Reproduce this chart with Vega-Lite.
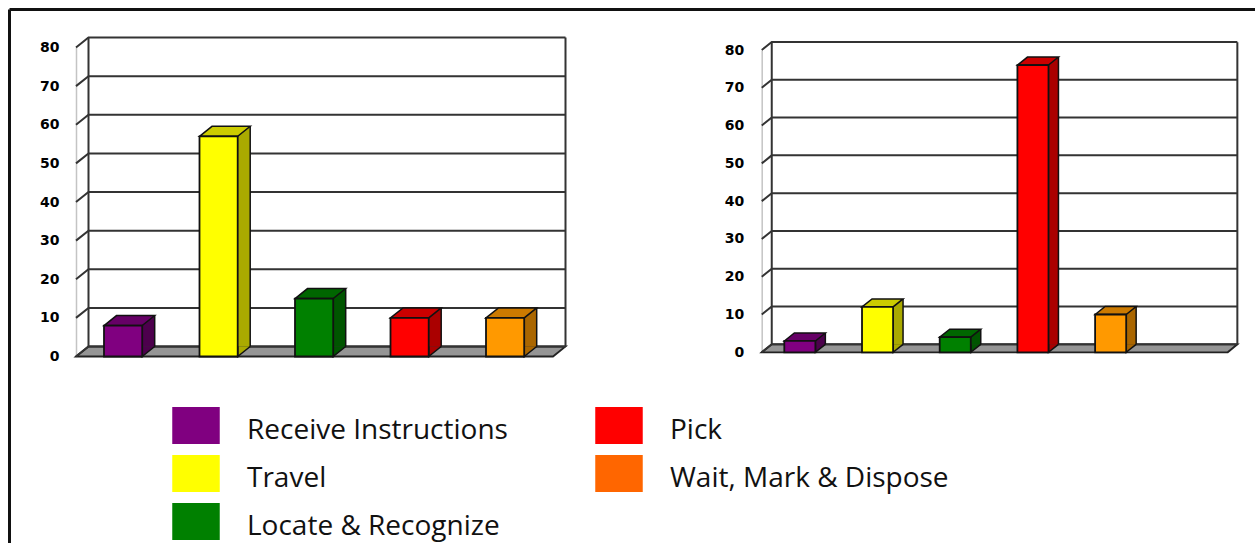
{
"$schema":"https://vega.github.io/schema/vega-lite/v6.json",
"width":1246,"height":534,
"autosize":{"type":"none"},
"padding":{"left":9,"top":9,"right":0,"bottom":0},
"background":"white",
"config":{"view":{"stroke":null}},
"datasets":{
"left":[{"activity":"Receive Instructions","value":8},{"activity":"Travel","value":57},{"activity":"Locate & Recognize","value":15},{"activity":"Pick","value":10},{"activity":"Wait, Mark & Dispose","value":10}],
"right":[{"activity":"Receive Instructions","value":3},{"activity":"Travel","value":12},{"activity":"Locate & Recognize","value":4},{"activity":"Pick","value":76},{"activity":"Wait, Mark & Dispose","value":10}],
"ticks":[{"tick":0},{"tick":10},{"tick":20},{"tick":30},{"tick":40},{"tick":50},{"tick":60},{"tick":70},{"tick":80}]
},
"resolve":{"scale":{"x":"independent","y":"independent","color":"independent"},"axis":{"x":"independent","y":"independent"}},
"layer":[
{"data":{"name":"ticks"},"mark":{"type":"point","size":0,"opacity":0},
 "encoding":{
  "x":{"datum":0,"type":"quantitative","scale":{"domain":[0,1]},"axis":{"orient":"top","title":null,"labels":false,"ticks":false,"grid":false,"domain":true,"domainColor":"#111","domainWidth":3}},
  "y":{"datum":0,"type":"quantitative","scale":{"domain":[0,1]},"axis":{"orient":"left","title":null,"labels":false,"ticks":false,"grid":false,"domain":true,"domainColor":"#111","domainWidth":3}}}},
{"data":{"name":"left"},"mark":{"type":"point","filled":true,"size":0},
 "encoding":{"color":{"field":"activity","type":"nominal",
  "scale":{"domain":["Receive Instructions","Travel","Locate & Recognize","Pick","Wait, Mark & Dispose"],"range":["#800080","#ffff00","#008000","#ff0000","#ff6600"]},
  "legend":{"title":null,"orient":"none","legendX":163,"legendY":398,"columns":2,"direction":"vertical","symbolType":"M-1,-1.05L1,-1.05L1,0.55L-1,0.55Z","symbolSize":2256,"symbolOpacity":1,"symbolStrokeWidth":0,"labelFont":"Open Sans","labelFontSize":28,"labelColor":"#111","labelLimit":500,"labelOffset":27,"columnPadding":87,"rowPadding":0,"clipHeight":48}}}},
{"data":{"name":"left"},
 "resolve":{"scale":{"color":"independent"}},
 "encoding":{
  "x":{"field":"activity","type":"nominal","sort":null,"axis":null,"scale":{"domain":["Receive Instructions","Travel","Locate & Recognize","Pick","Wait, Mark & Dispose"],"range":[66.35,543.85],"paddingInner":0.6,"paddingOuter":0.3}},
  "y":{"field":"value","type":"quantitative","scale":{"domain":[0,80],"range":[347.5,38.5],"nice":false},
   "axis":{"orient":"left","offset":-67,"title":null,"values":[0,10,20,30,40,50,60,70,80],"grid":false,"ticks":false,"domain":true,"domainColor":"#c4c4c4","domainWidth":1.5,"labelFont":"DejaVu Sans","labelFontWeight":"bold","labelFontSize":14,"labelColor":"#000","labelPadding":17}}},
 "layer":[
  {"mark":{"type":"point","filled":true,"size":4,"opacity":1,"fill":"#959595","stroke":"#222","strokeWidth":1.8,"shape":"M-47.1,0L-34.6,-10L442.4,-10L429.9,0Z"},
   "transform":[{"filter":"datum.activity==='Receive Instructions'"}],
   "encoding":{"y":{"datum":0,"type":"quantitative"}}},
  {"data":{"name":"ticks"},"mark":{"type":"point","filled":false,"size":4,"opacity":1,"stroke":"#333","strokeWidth":2,"shape":"M-47.1,0L-34.6,-10L442.4,-10"},
   "encoding":{"x":{"datum":"Receive Instructions"},"y":{"field":"tick","type":"quantitative"}}},
  {"mark":{"type":"point","filled":false,"size":4,"opacity":1,"stroke":"#333","strokeWidth":2,"shape":"M-34.6,-10L-34.6,-319M442.4,-10L442.4,-319"},
   "transform":[{"filter":"datum.activity==='Receive Instructions'"}],
   "encoding":{"y":{"datum":0,"type":"quantitative"}}},
  {"mark":{"type":"bar","width":12.5,"xOffset":25.35,"yOffset":-10,"y2Offset":-10},
   "encoding":{"y2":{"datum":0},"color":{"field":"activity","type":"nominal","legend":null,"scale":{"domain":["Receive Instructions","Travel","Locate & Recognize","Pick","Wait, Mark & Dispose"],"range":["#4d004d","#aaaa00","#005500","#aa0000","#aa6600"]}}}},
  {"mark":{"type":"point","filled":true,"size":4,"opacity":1,"stroke":"#111","strokeWidth":1.5,"shape":"M19.1,-10L19.1,0L31.6,-10"},
   "encoding":{"y":{"datum":0,"type":"quantitative"},"color":{"field":"activity","type":"nominal","legend":null,"scale":{"domain":["Receive Instructions","Travel","Locate & Recognize","Pick","Wait, Mark & Dispose"],"range":["#4d004d","#aaaa00","#005500","#aa0000","#aa6600"]}}}},
  {"mark":{"type":"rule","xOffset":31.6,"yOffset":-10,"y2Offset":-10,"color":"#111","strokeWidth":1.5},
   "encoding":{"y2":{"datum":0}}},
  {"mark":{"type":"point","filled":true,"size":4,"opacity":1,"stroke":"#111","strokeWidth":1.5,"shape":"M-19.1,0L-6.6,-10L31.6,-10L19.1,0Z"},
   "encoding":{"color":{"field":"activity","type":"nominal","legend":null,"scale":{"domain":["Receive Instructions","Travel","Locate & Recognize","Pick","Wait, Mark & Dispose"],"range":["#660066","#cccc00","#006600","#cc0000","#cc7a00"]}}}},
  {"mark":{"type":"bar","stroke":"#111","strokeWidth":1.8},
   "encoding":{"color":{"field":"activity","type":"nominal","legend":null,"scale":{"domain":["Receive Instructions","Travel","Locate & Recognize","Pick","Wait, Mark & Dispose"],"range":["#800080","#ffff00","#008000","#ff0000","#ff9900"]}}}}
 ]},
{"data":{"name":"right"},
 "resolve":{"scale":{"color":"independent"}},
 "encoding":{
  "x":{"field":"activity","type":"nominal","sort":null,"axis":null,"scale":{"domain":["Receive Instructions","Travel","Locate & Recognize","Pick","Wait, Mark & Dispose"],"range":[752,1140.5],"paddingInner":0.6,"paddingOuter":0.3}},
  "y":{"field":"value","type":"quantitative","scale":{"domain":[0,80],"range":[343.3,41],"nice":false},
   "axis":{"orient":"left","offset":-752.7,"title":null,"values":[0,10,20,30,40,50,60,70,80],"grid":false,"ticks":false,"domain":true,"domainColor":"#c4c4c4","domainWidth":1.5,"labelFont":"DejaVu Sans","labelFontWeight":"bold","labelFontSize":14,"labelColor":"#000","labelPadding":18}}},
 "layer":[
  {"mark":{"type":"point","filled":true,"size":4,"opacity":1,"fill":"#959595","stroke":"#222","strokeWidth":1.8,"shape":"M-38.1,0L-28.1,-8L437.5,-8L427.9,0Z"},
   "transform":[{"filter":"datum.activity==='Receive Instructions'"}],
   "encoding":{"y":{"datum":0,"type":"quantitative"}}},
  {"data":{"name":"ticks"},"mark":{"type":"point","filled":false,"size":4,"opacity":1,"stroke":"#333","strokeWidth":2,"shape":"M-38.1,0L-28.1,-8L437.5,-8"},
   "encoding":{"x":{"datum":"Receive Instructions"},"y":{"field":"tick","type":"quantitative"}}},
  {"mark":{"type":"point","filled":false,"size":4,"opacity":1,"stroke":"#333","strokeWidth":2,"shape":"M-28.1,-8L-28.1,-310M437.5,-8L437.5,-310"},
   "transform":[{"filter":"datum.activity==='Receive Instructions'"}],
   "encoding":{"y":{"datum":0,"type":"quantitative"}}},
  {"mark":{"type":"bar","width":10,"xOffset":20.5,"yOffset":-8,"y2Offset":-8},
   "encoding":{"y2":{"datum":0},"color":{"field":"activity","type":"nominal","legend":null,"scale":{"domain":["Receive Instructions","Travel","Locate & Recognize","Pick","Wait, Mark & Dispose"],"range":["#4d004d","#aaaa00","#005500","#aa0000","#aa6600"]}}}},
  {"mark":{"type":"point","filled":true,"size":4,"opacity":1,"stroke":"#111","strokeWidth":1.5,"shape":"M15.5,-8L15.5,0L25.5,-8"},
   "encoding":{"y":{"datum":0,"type":"quantitative"},"color":{"field":"activity","type":"nominal","legend":null,"scale":{"domain":["Receive Instructions","Travel","Locate & Recognize","Pick","Wait, Mark & Dispose"],"range":["#4d004d","#aaaa00","#005500","#aa0000","#aa6600"]}}}},
  {"mark":{"type":"rule","xOffset":25.5,"yOffset":-8,"y2Offset":-8,"color":"#111","strokeWidth":1.5},
   "encoding":{"y2":{"datum":0}}},
  {"mark":{"type":"point","filled":true,"size":4,"opacity":1,"stroke":"#111","strokeWidth":1.5,"shape":"M-15.5,0L-5.5,-8L25.5,-8L15.5,0Z"},
   "encoding":{"color":{"field":"activity","type":"nominal","legend":null,"scale":{"domain":["Receive Instructions","Travel","Locate & Recognize","Pick","Wait, Mark & Dispose"],"range":["#660066","#cccc00","#006600","#cc0000","#cc7a00"]}}}},
  {"mark":{"type":"bar","stroke":"#111","strokeWidth":1.8},
   "encoding":{"color":{"field":"activity","type":"nominal","legend":null,"scale":{"domain":["Receive Instructions","Travel","Locate & Recognize","Pick","Wait, Mark & Dispose"],"range":["#800080","#ffff00","#008000","#ff0000","#ff9900"]}}}}
 ]}
]
}
